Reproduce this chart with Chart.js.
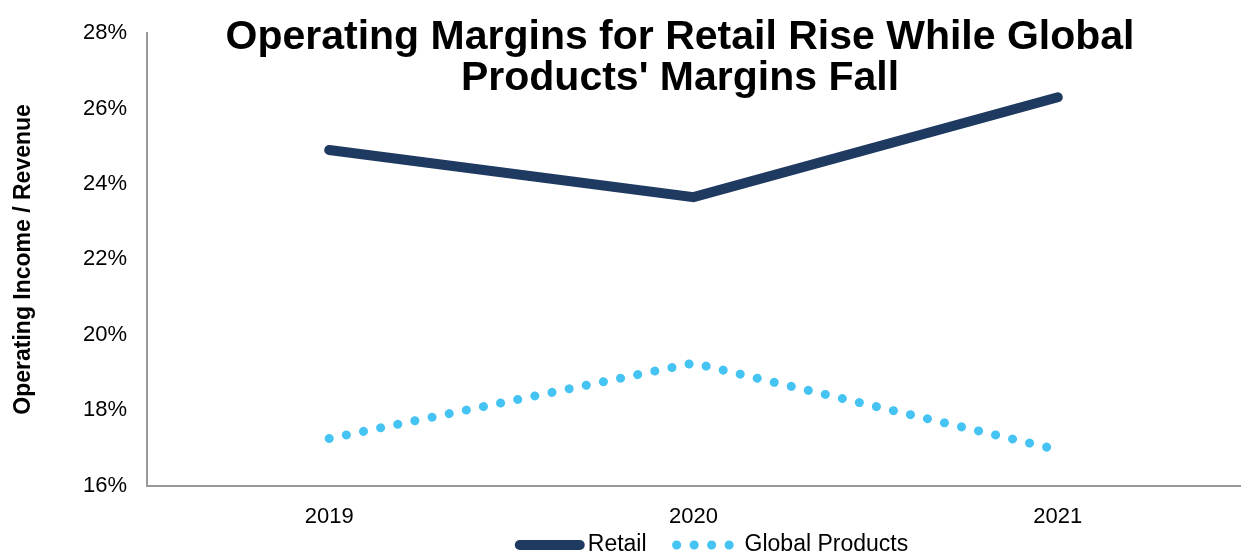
<!DOCTYPE html>
<html>
<head>
<meta charset="utf-8">
<script src="https://cdn.jsdelivr.net/npm/chart.js@4/dist/chart.umd.min.js"></script>
<style>
  html, body { margin: 0; padding: 0; background: #fff; }
  #wrap { width: 1248px; height: 559px; }
</style>
</head>
<body>
<div id="wrap"><canvas id="chart"></canvas></div>
<script>
const years = ['2019', '2020', '2021'];
const retail = [24.9, 23.65, 26.3];
const globalProducts = [17.25, 19.25, 16.95];
const titleLines = ['Operating Margins for Retail Rise While Global', "Products' Margins Fall"];

const FONT = '"Liberation Sans", Arial, sans-serif';

// title sits over the plot area, so draw it by hand
const titlePlugin = {
  id: 'overTitle',
  afterDraw(chart) {
    const ctx = chart.ctx;
    ctx.save();
    ctx.fillStyle = '#000';
    ctx.font = 'bold 41px ' + FONT;
    ctx.textAlign = 'center';
    ctx.textBaseline = 'middle';
    titleLines.forEach((line, i) => ctx.fillText(line, 680, 38 + i * 41));
    ctx.restore();
  }
};

// legend drawn by hand: built-in one can't have a wide gap between items
// without also getting very tall
const lineLegend = {
  id: 'lineLegend',
  afterDraw(chart) {
    const ctx = chart.ctx;
    const sample = 60, gapText = 8, gapItem = 30;
    const y = 545, cx = 714;
    ctx.save();
    ctx.font = '23px ' + FONT;
    const items = chart.data.datasets.map(ds => ({ ds, w: ctx.measureText(ds.label).width }));
    const total = items.reduce((s, it) => s + sample + gapText + it.w, 0) + gapItem * (items.length - 1);
    let x = cx - total / 2;
    items.forEach(({ ds, w }) => {
      ctx.beginPath();
      ctx.strokeStyle = ds.borderColor;
      ctx.lineWidth = ds.borderWidth;
      ctx.lineCap = 'round';
      ctx.setLineDash(ds.borderDash || []);
      ctx.moveTo(x, y);
      ctx.lineTo(x + sample, y);
      ctx.stroke();
      ctx.setLineDash([]);
      ctx.fillStyle = '#000';
      ctx.textAlign = 'left';
      ctx.textBaseline = 'middle';
      ctx.fillText(ds.label, x + sample + gapText, y);
      x += sample + gapText + w + gapItem;
    });
    ctx.restore();
  }
};

new Chart(document.getElementById('chart'), {
  type: 'line',
  data: {
    labels: years,
    datasets: [
      {
        label: 'Retail',
        data: retail,
        borderColor: '#1f3a60',
        backgroundColor: '#1f3a60',
        borderWidth: 10,
        borderCapStyle: 'round',
        borderJoinStyle: 'miter',
        pointRadius: 0,
        tension: 0
      },
      {
        label: 'Global Products',
        data: globalProducts,
        borderColor: '#45c4f3',
        backgroundColor: '#45c4f3',
        borderWidth: 9,
        borderDash: [0.1, 17.4],
        borderCapStyle: 'round',
        pointRadius: 0,
        tension: 0
      }
    ]
  },
  options: {
    responsive: true,
    maintainAspectRatio: false,
    animation: false,
    layout: { padding: { left: 10, right: 8, top: 33, bottom: 11 } },
    plugins: {
      title: { display: false },
      tooltip: { enabled: false },
      legend: { display: false }
    },
    scales: {
      x: {
        offset: true,
        grid: { display: false, drawTicks: false },
        border: { display: true, color: '#999', width: 2 },
        ticks: { color: '#000', padding: 18, font: { family: FONT, size: 22 } }
      },
      y: {
        min: 16,
        max: 28,
        grid: { display: false, drawTicks: false },
        border: { display: true, color: '#999', width: 2 },
        ticks: {
          stepSize: 2,
          color: '#000',
          padding: 20,
          font: { family: FONT, size: 22 },
          callback: v => v + '%'
        },
        title: {
          display: true,
          text: 'Operating Income / Revenue',
          color: '#000',
          padding: { top: 0, bottom: 0 },
          font: { family: FONT, size: 23, weight: 'bold' }
        },
        afterFit(scale) { scale.width = 137; }
      }
    }
  },
  plugins: [titlePlugin, lineLegend]
});
</script>
</body>
</html>
